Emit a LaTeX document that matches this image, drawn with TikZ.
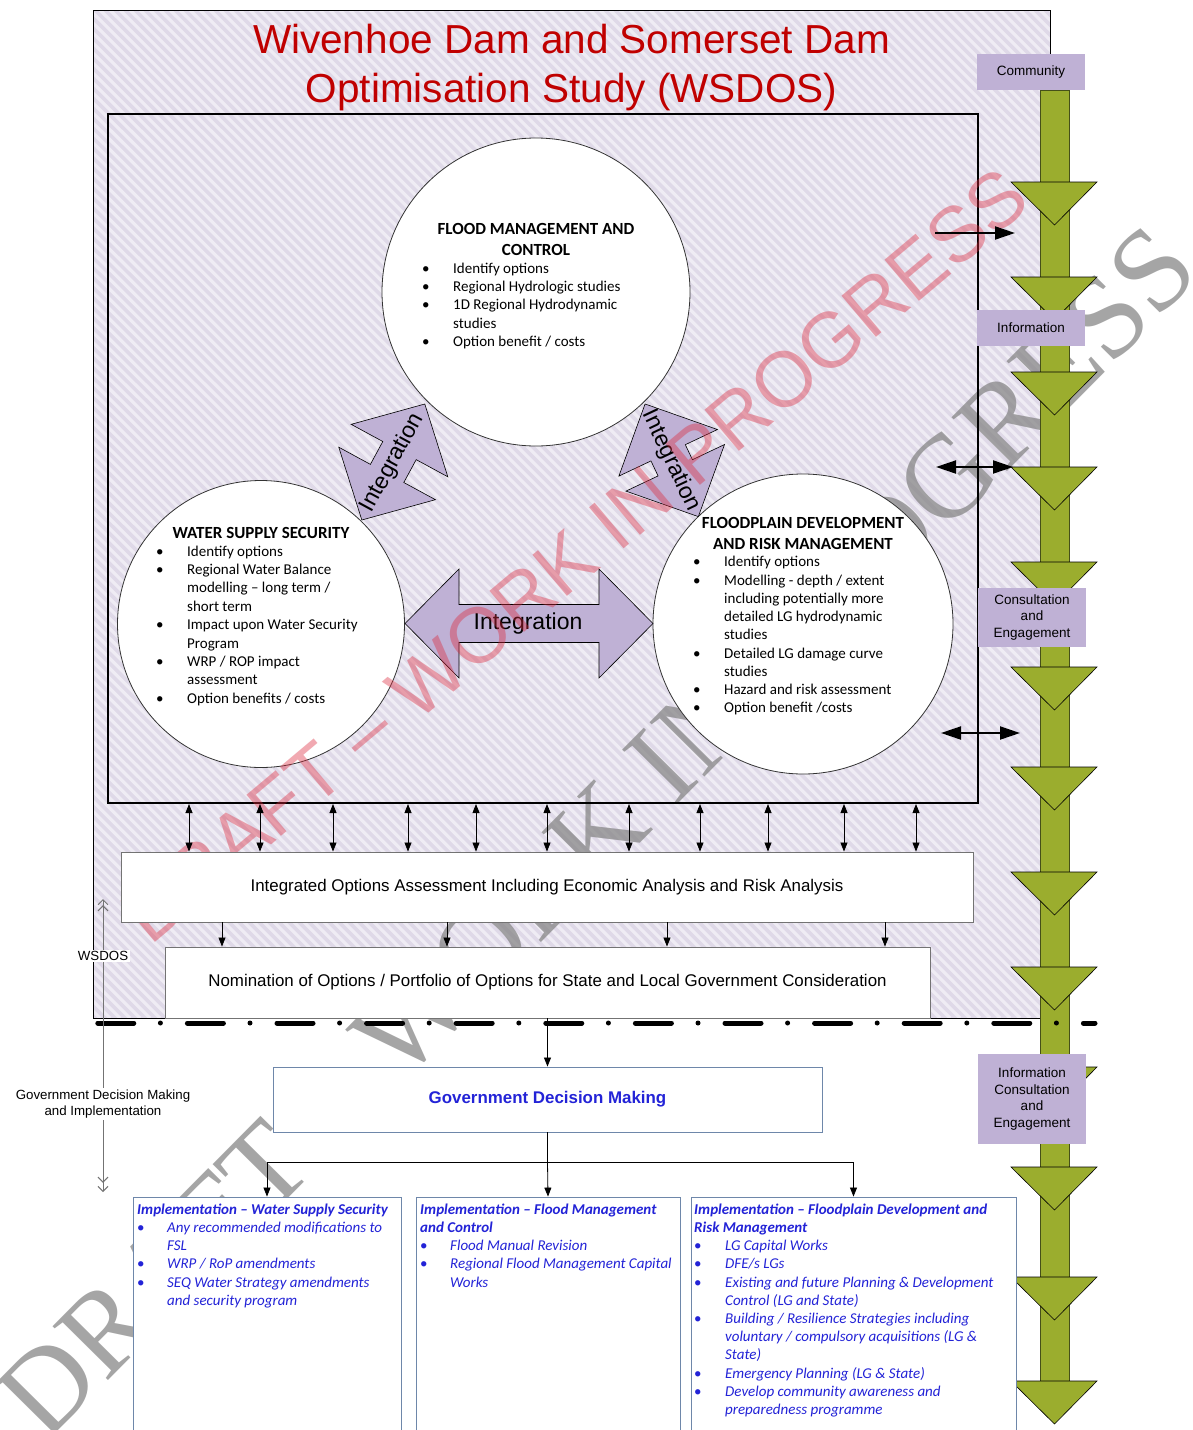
\documentclass[tikz,border=0pt]{standalone}
\usepackage{fontspec}
\setmainfont{Liberation Sans}
\newfontfamily\calib{Carlito}
\newfontfamily\wmserif{Liberation Serif}
\usetikzlibrary{arrows.meta}
\definecolor{lavbg}{RGB}{223,217,232}
\definecolor{lavstripe}{RGB}{239,236,244}
\definecolor{lavbox}{RGB}{191,177,213}
\definecolor{titlered}{RGB}{192,0,0}
\definecolor{grn}{RGB}{155,173,46}
\definecolor{grnedge}{RGB}{70,80,25}
\definecolor{boxblue}{RGB}{110,135,170}
\definecolor{txtblue}{RGB}{35,35,215}
\definecolor{wmred}{RGB}{220,40,60}
\tikzset{pics/intarr/.style n args={4}{code={
  \draw[fill=lavbox, draw=black, line width=0.6, line join=miter]
    (-#1,0) -- (-#1+#2,-#3) -- (-#1+#2,-#4) -- (#1-#2,-#4) -- (#1-#2,-#3) -- (#1,0)
    -- (#1-#2,#3) -- (#1-#2,#4) -- (-#1+#2,#4) -- (-#1+#2,#3) -- cycle;
}}}
\begin{document}
\begin{tikzpicture}[x=1pt,y=-1pt,
  circ/.style={circle, draw=black!80, line width=0.8, fill=white, inner sep=0},
  listtxt/.style={anchor=north west, inner sep=0, font=\calib\fontsize{15}{18.4}\selectfont},
  headtxt/.style={inner sep=0, align=center, font=\calib\bfseries\fontsize{17}{20.5}\selectfont},
  inttxt/.style={inner sep=0, font=\fontsize{23}{26}\selectfont},
  colbox/.style={fill=lavbox, inner sep=0, align=center, font=\fontsize{13.5}{16.4}\selectfont},
  greenhead/.style={fill=grn, draw=black, line width=0.6, line join=miter},
  bigarr/.style={line width=2, -{Triangle[length=20pt,width=13pt]}},
  bigdbl/.style={line width=2, {Triangle[length=20pt,width=13pt]}-{Triangle[length=20pt,width=13pt]}},
  smallarr/.style={line width=0.8, -{Triangle[length=9pt,width=7pt]}},
  smalldbl/.style={line width=0.8, {Triangle[length=9pt,width=7pt]}-{Triangle[length=9pt,width=7pt]}},
  wbox/.style={draw=black!55, line width=0.9, fill=white, inner sep=0, font=\fontsize{16.9}{20}\selectfont},
  impbox/.style={draw=boxblue, line width=0.9, fill=white, inner sep=0},
  imptxt/.style={anchor=north west, inner sep=0, text=txtblue, font=\calib\itshape\fontsize{15}{18.2}\selectfont},
  sidelbl/.style={fill=white, inner sep=1.5, align=center, font=\fontsize{13.3}{16}\selectfont},
]
\clip (0,0) rectangle (1193,1430);
\fill[white] (0,0) rectangle (1193,1430);

% outer hatched frame
\node[fill=lavbg, minimum width=957, minimum height=1008, inner sep=0, outer sep=0] (outer) at (571.5,514) {};
\begin{scope}
  \clip (outer.north west) rectangle (outer.south east);
  \foreach \i in {-1010,-1000,...,1050} \draw[lavstripe, line width=3.2] (\i,10) -- ++(1010,1008);
\end{scope}

% grey watermark (behind)
\node[rotate=45.3, text=black!50, opacity=0.7, inner sep=0, font=\wmserif\fontsize{118}{118}\selectfont] (wmgrey) at (597,832) {DRAFT – WORK IN PROGRESS};

\draw[line width=0.8] (outer.north west) rectangle (outer.south east);

% title
\node[text=titlered, inner sep=0, align=center, font=\fontsize{40.5}{49}\selectfont] (title) at (571.5,68) {Wivenhoe Dam and Somerset Dam\\Optimisation Study (WSDOS)};

% inner box
\node[draw, line width=2, minimum width=870, minimum height=689, inner sep=0] (inner) at (543,458.5) {};

% circles
\node[circ, minimum size=308] (fmc) at (536,292) {};
\node[circ, minimum size=287] (wsc) at (261,624) {};
\node[circ, minimum size=300] (fdc) at (803,624) {};

\node[headtxt] (fmh) at (536,239.5) {FLOOD MANAGEMENT AND\\CONTROL};
\node[listtxt] (fml) at (422,260) {\begin{tabular}{@{}p{31pt}@{}l@{}}
•& Identify options\\
•& Regional Hydrologic studies\\
•& 1D Regional Hydrodynamic\\
 & studies\\
•& Option benefit / costs
\end{tabular}};

\node[headtxt] (wsh) at (261,532.5) {WATER SUPPLY SECURITY};
\node[listtxt] (wsl) at (156,543) {\begin{tabular}{@{}p{31pt}@{}l@{}}
•& Identify options\\
•& Regional Water Balance\\
 & modelling – long term /\\
 & short term\\
•& Impact upon Water Security\\
 & Program\\
•& WRP / ROP impact\\
 & assessment\\
•& Option benefits / costs
\end{tabular}};

\node[headtxt, font=\calib\bfseries\fontsize{17}{21}\selectfont] (fdh) at (803,533) {FLOODPLAIN DEVELOPMENT\\AND RISK MANAGEMENT};
\node[listtxt, font=\calib\fontsize{15}{18.25}\selectfont] (fdl) at (693,554) {\begin{tabular}{@{}p{31pt}@{}l@{}}
•& Identify options\\
•& Modelling - depth / extent\\
 & including potentially more\\
 & detailed LG hydrodynamic\\
 & studies\\
•& Detailed LG damage curve\\
 & studies\\
•& Hazard and risk assessment\\
•& Option benefit /costs
\end{tabular}};

% integration arrows
\pic at (529,623.5) {intarr={124}{54}{54.5}{19}};
\node[inttxt] (intm) at (528,624) {Integration};
\pic[rotate=61.5] at (393.3,462) {intarr={66}{53}{55}{19}};
\node[inttxt, rotate=61.5] (intl) at (392.5,463) {Integration};
\pic[rotate=-64.7] at (671.7,460.3) {intarr={62.3}{54}{54.5}{19}};
\node[inttxt, rotate=-64.7] (intr) at (671,460.5) {Integration};

% red watermark
\node[rotate=40, text=wmred, opacity=0.4, inner sep=0, font=\fontsize{78}{78}\selectfont] (wmred) at (575,555) {DRAFT – WORK IN PROGRESS};

% green column
\filldraw[fill=grn, draw=grnedge, line width=0.8] (1040,90) rectangle (1069,1381);
\foreach \b in {182,277,372,467,562,667,767,872,967,1067,1167,1277,1381}
  \filldraw[greenhead] (1011,\b) -- (1097,\b) -- (1054.5,\b+43) -- cycle;

\node[colbox, minimum width=108, minimum height=36] (comm) at (1031,72) {Community};
\node[colbox, minimum width=108, minimum height=36] (info) at (1031,328) {Information};
\node[colbox, minimum width=108, minimum height=59] (cons) at (1032,617.5) {Consultation\\and\\Engagement};
\node[colbox, minimum width=108, minimum height=90] (ice) at (1032,1099) {Information\\Consultation\\and\\Engagement};

\coordinate (a1s) at (935,233);  \coordinate (a1e) at (1015,233);
\coordinate (a2s) at (936,467);  \coordinate (a2e) at (1013,467);
\coordinate (a3s) at (941,733);  \coordinate (a3e) at (1020,733);
\draw[bigarr] (a1s) -- (a1e);
\draw[bigdbl] (a2s) -- (a2e);
\draw[bigdbl] (a3s) -- (a3e);

% assessment boxes
\node[wbox, minimum width=852, minimum height=70] (integ) at (547,887) {Integrated Options Assessment Including Economic Analysis and Risk Analysis};
\node[wbox, minimum width=765, minimum height=71] (nom) at (547.5,982.5) {Nomination of Options / Portfolio of Options for State and Local Government Consideration};

\foreach \x in {189,260,333,408,476,547,629,700,768,844,916}
  \draw[smalldbl] (inner.south -| \x,0) -- (integ.north -| \x,0);
\foreach \x in {222,447,667,885}
  \draw[smallarr] (integ.south -| \x,0) -- (nom.north -| \x,0);

% dash-dot separator
\coordinate (dd1) at (97.8,1023); \coordinate (dd2) at (1095,1023);
\draw[line width=5, line cap=round, dash pattern=on 36pt off 26.6pt on 0pt off 27pt] (dd1) -- (dd2);

% government decision
\node[impbox, minimum width=549, minimum height=65, text=txtblue, font=\bfseries\fontsize{16.9}{20}\selectfont] (gov) at (547.5,1099.5) {Government Decision Making};
\draw[smallarr] (nom.south) -- (gov.north);

\node[impbox, minimum width=268, minimum height=260] (imp1) at (267,1327) {};
\node[impbox, minimum width=264, minimum height=260] (imp2) at (548,1327) {};
\node[impbox, minimum width=325, minimum height=260] (imp3) at (853.5,1327) {};

\coordinate (jn) at (547.5,1162);
\draw[line width=0.8] (gov.south) -- (jn);
\draw[smallarr] (jn) -| (imp1.north);
\draw[smallarr] (jn) -| (imp3.north);
\draw[smallarr] (jn) -- (imp2.north);

\node[imptxt] (t1) at (137,1201.3) {\begin{tabular}{@{}p{30pt}@{}l@{}}
\multicolumn{2}{@{}l@{}}{\bfseries Implementation – Water Supply Security}\\
{\upshape •}& Any recommended modifications to\\
 & FSL\\
{\upshape •}& WRP / RoP amendments\\
{\upshape •}& SEQ Water Strategy amendments\\
 & and security program
\end{tabular}};
\node[imptxt] (t2) at (420,1201.3) {\begin{tabular}{@{}p{30pt}@{}l@{}}
\multicolumn{2}{@{}l@{}}{\bfseries Implementation – Flood Management}\\
\multicolumn{2}{@{}l@{}}{\bfseries and Control}\\
{\upshape •}& Flood Manual Revision\\
{\upshape •}& Regional Flood Management Capital\\
 & Works
\end{tabular}};
\node[imptxt] (t3) at (694,1201.3) {\begin{tabular}{@{}p{31pt}@{}l@{}}
\multicolumn{2}{@{}l@{}}{\bfseries Implementation – Floodplain Development and}\\
\multicolumn{2}{@{}l@{}}{\bfseries Risk Management}\\
{\upshape •}& LG Capital Works\\
{\upshape •}& DFE/s LGs\\
{\upshape •}& Existing and future Planning \& Development\\
 & Control (LG and State)\\
{\upshape •}& Building / Resilience Strategies including\\
 & voluntary / compulsory acquisitions (LG \&\\
 & State)\\
{\upshape •}& Emergency Planning (LG \& State)\\
{\upshape •}& Develop community awareness and\\
 & preparedness programme
\end{tabular}};

% left scope arrow
\coordinate (wsTop) at (103,896); \coordinate (wsBot) at (103,1192);
\draw[black!55, line width=1, {Straight Barb[length=5pt,width=10pt,sep=3pt]Straight Barb[length=5pt,width=10pt]}-{Straight Barb[length=5pt,width=10pt,sep=3pt]Straight Barb[length=5pt,width=10pt]}] (wsTop) -- (wsBot);
\node[sidelbl] (wslbl) at (103,956) {WSDOS};
\node[sidelbl] (gdlbl) at (103,1104) {Government Decision Making\\and Implementation};
\end{tikzpicture}
\end{document}
